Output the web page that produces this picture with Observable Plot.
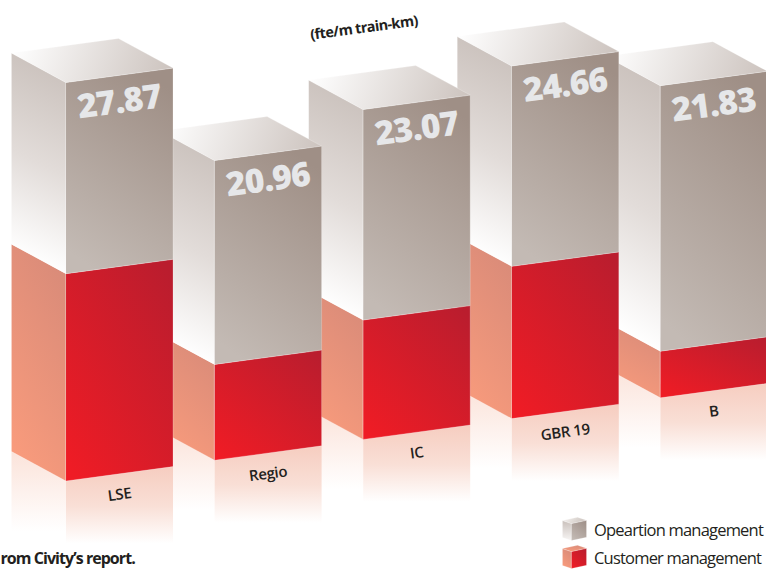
<!DOCTYPE html>
<html><head><meta charset="utf-8">
<script src="https://cdn.jsdelivr.net/npm/d3@7"></script>
<script src="https://cdn.jsdelivr.net/npm/@observablehq/plot@0.6"></script>
<style>html,body{margin:0;padding:0;background:#fff;overflow:hidden}svg{display:block}
g[font-size="33.5"]{letter-spacing:-.8px}
g[font-size="15"]{letter-spacing:-.35px}
g[font-size="14.5"]{letter-spacing:-.6px}
g[font-size="16"]{letter-spacing:-.95px}
g[font-size="16.5"]{letter-spacing:-.8px}
</style>
</head><body><div id="chart"></div>
<script>
const categories = ["LSE", "Regio", "IC", "GBR 19", "B"];
const totals = [27.87, 20.96, 23.07, 24.66, 21.83];
const customer = [14.5, 6.7, 8.35, 10.65, 3.26];
const seriesLabels = ["Opeartion management", "Customer management"];
const unitLabel = "(fte/m train-km)";
const sourceLabel = "rom Civity\u2019s report.";

const W = 766, H = 569, K = 14.3;           // px per data unit
const Y = px => (H - px) / K;               // plain page pixel -> y value
const frontW = 107, sideW = 54.5, riseF = 14.4, riseS = 29.5;
const angle = -Math.atan(riseF / frontW) * 180 / Math.PI;
const frontX = i => 65.5 + i * 148.6;
const baseY = i => 480.5 - i * 20.8;

function grad(id, x1, y1, x2, y2, stops) {
  return `<linearGradient id="${id}" x1="${x1}" y1="${y1}" x2="${x2}" y2="${y2}">` +
    stops.map(([o, c]) => `<stop offset="${o}" stop-color="${c}"/>`).join("") + `</linearGradient>`;
}
const defsMark = () => {
  const g = document.createElementNS("http://www.w3.org/2000/svg", "defs");
  g.innerHTML = [
    grad("gFront", 0.68, 0, 0.32, 1, [[0, "#9f8f86"], [1, "#c3bab4"]]),
    grad("gSide", 0.56, 0, 0.44, 1, [[0, "#c9c0bb"], [0.5, "#e2dcd9"], [0.95, "#ffffff"], [1, "#ffffff"]]),
    grad("gTop", 0, 0.45, 1, 0.55, [[0, "#fefefe"], [1, "#cdc4bf"]]),
    grad("rFront", 0.9, 0, 0.1, 1, [[0, "#ba1d2e"], [1, "#ef1c25"]]),
    grad("rSide", 0.7, 0, 0.3, 1, [[0, "#d98b79"], [1, "#f99b7c"]]),
    grad("reFront", 0, 0, 0, 1, [[0, "#f6cdc0"], [0.5, "#f9dfd6"], [0.98, "#ffffff"], [1, "#ffffff"]]),
    grad("reSide", 0, 0, 0, 1, [[0, "#fbe3da"], [0.85, "#ffffff"], [1, "#ffffff"]]),
    grad("lgTop", 0, 0.4, 1, 0.6, [[0, "#f4f1ef"], [1, "#c9c0ba"]]),
    grad("lgSide", 0, 0, 0, 1, [[0, "#c9c0bb"], [1, "#f7f5f4"]]),
    grad("lgFront", 0.8, 0, 0.2, 1, [[0, "#a0918a"], [1, "#c3bab4"]])
  ].join("");
  return g;
};

const poly = (pts, fill) => Plot.line(pts.map(([x, y]) => ({x, y})), {
  x: "x", y: "y", fill, stroke: "#fff", strokeOpacity: 0.45, strokeWidth: 0.5, curve: "linear-closed"
});

function sideFace(x, y0, y1, fill) {
  const s = riseS / K;
  return poly([[x - sideW, y1 + s], [x, y1], [x, y0], [x - sideW, y0 + s]], fill);
}
function frontFace(x, y0, y1, fill) {
  const r = riseF / K;
  return poly([[x, y1], [x + frontW, y1 + r], [x + frontW, y0 + r], [x, y0]], fill);
}
function topFace(x, y1, fill) {
  const r = riseF / K, s = riseS / K;
  return poly([[x - sideW, y1 + s], [x - sideW + frontW, y1 + s + r], [x + frontW, y1 + r], [x, y1]], fill);
}

const marks = [defsMark];
// farthest bar first, so that nearer bars overlap it
for (let i = categories.length - 1; i >= 0; i--) {
  const x = frontX(i), b = Y(baseY(i)), m = b + customer[i], t = b + totals[i];
  const r = riseF / K, s = riseS / K;
  const floor = b - 64 / K;
  marks.push(
    Plot.line([[x - sideW, b + s], [x, b], [x, floor], [x - sideW, floor]].map(([x, y]) => ({x, y})),
      {x: "x", y: "y", fill: "url(#reSide)", stroke: "none", curve: "linear-closed"}),
    Plot.line([[x, b], [x + frontW, b + r], [x + frontW, floor], [x, floor]].map(([x, y]) => ({x, y})),
      {x: "x", y: "y", fill: "url(#reFront)", stroke: "none", curve: "linear-closed"}),
    sideFace(x, b, m, "url(#rSide)"),
    frontFace(x, b, m, "url(#rFront)"),
    sideFace(x, m, t, "url(#gSide)"),
    frontFace(x, m, t, "url(#gFront)"),
    topFace(x, t, "url(#gTop)")
  );
}

// value labels and category labels, on the slant of the front face
const rows = categories.map((c, i) => ({
  c, v: totals[i].toFixed(2),
  x: frontX(i) + frontW / 2,
  yv: Y(baseY(i)) + totals[i] + (riseF / 2 - 27) / K,
  yc: Y(baseY(i)) + (riseF / 2 - 21) / K
}));
marks.push(
  Plot.text(rows, {x: "x", y: "yv", text: "v", rotate: angle, fill: "#e6e7e9",
    fontFamily: "Open Sans", fontWeight: 800, fontSize: 33.5}),
  Plot.text(rows, {x: "x", y: "yc", text: "c", rotate: angle, fill: "#231f20",
    fontFamily: "Open Sans", fontWeight: 600, fontSize: 15}),
  Plot.text([unitLabel], {x: [363.5], y: [Y(27.5)], text: d => d, rotate: angle, fill: "#231f20",
    fontFamily: "Open Sans", fontWeight: 700, fontSize: 14.5}),
  Plot.text([sourceLabel], {x: [0], y: [Y(558.5)], text: d => d, textAnchor: "start", fill: "#231f20",
    fontFamily: "Open Sans", fontWeight: 700, fontSize: 16})
);

// legend
function cube(x, yTop, top, side, front) {
  const h = 17 / K, r = 3.2 / K, s = 3 / K, fx = x, y1 = Y(yTop);
  return [
    poly([[fx - 9, y1 - h + s], [fx, y1 - h], [fx, y1], [fx - 9, y1 + s]], side),
    poly([[fx, y1], [fx + 15, y1 + r], [fx + 15, y1 - h + r], [fx, y1 - h]], front),
    poly([[fx - 9, y1 + s], [fx + 6, y1 + s + r], [fx + 15, y1 + r], [fx, y1]], top)
  ];
}
marks.push(
  ...cube(571, 523, "url(#lgTop)", "url(#lgSide)", "url(#lgFront)"),
  ...cube(571, 551, "url(#rSide)", "url(#rSide)", "url(#rFront)"),
  Plot.text(seriesLabels, {x: () => 593.5, y: (d, i) => Y(530.5 + i * 27.5), text: d => d, textAnchor: "start",
    fill: "#231f20", fontFamily: "Open Sans", fontSize: 16.5})
);

const chart = Plot.plot({
  width: W, height: H, margin: 0,
  x: {domain: [0, W], range: [0, W], axis: null},
  y: {domain: [0, H / K], range: [H, 0], axis: null},
  style: {background: "#fff"},
  marks
});
document.getElementById("chart").append(chart);
</script></body></html>
